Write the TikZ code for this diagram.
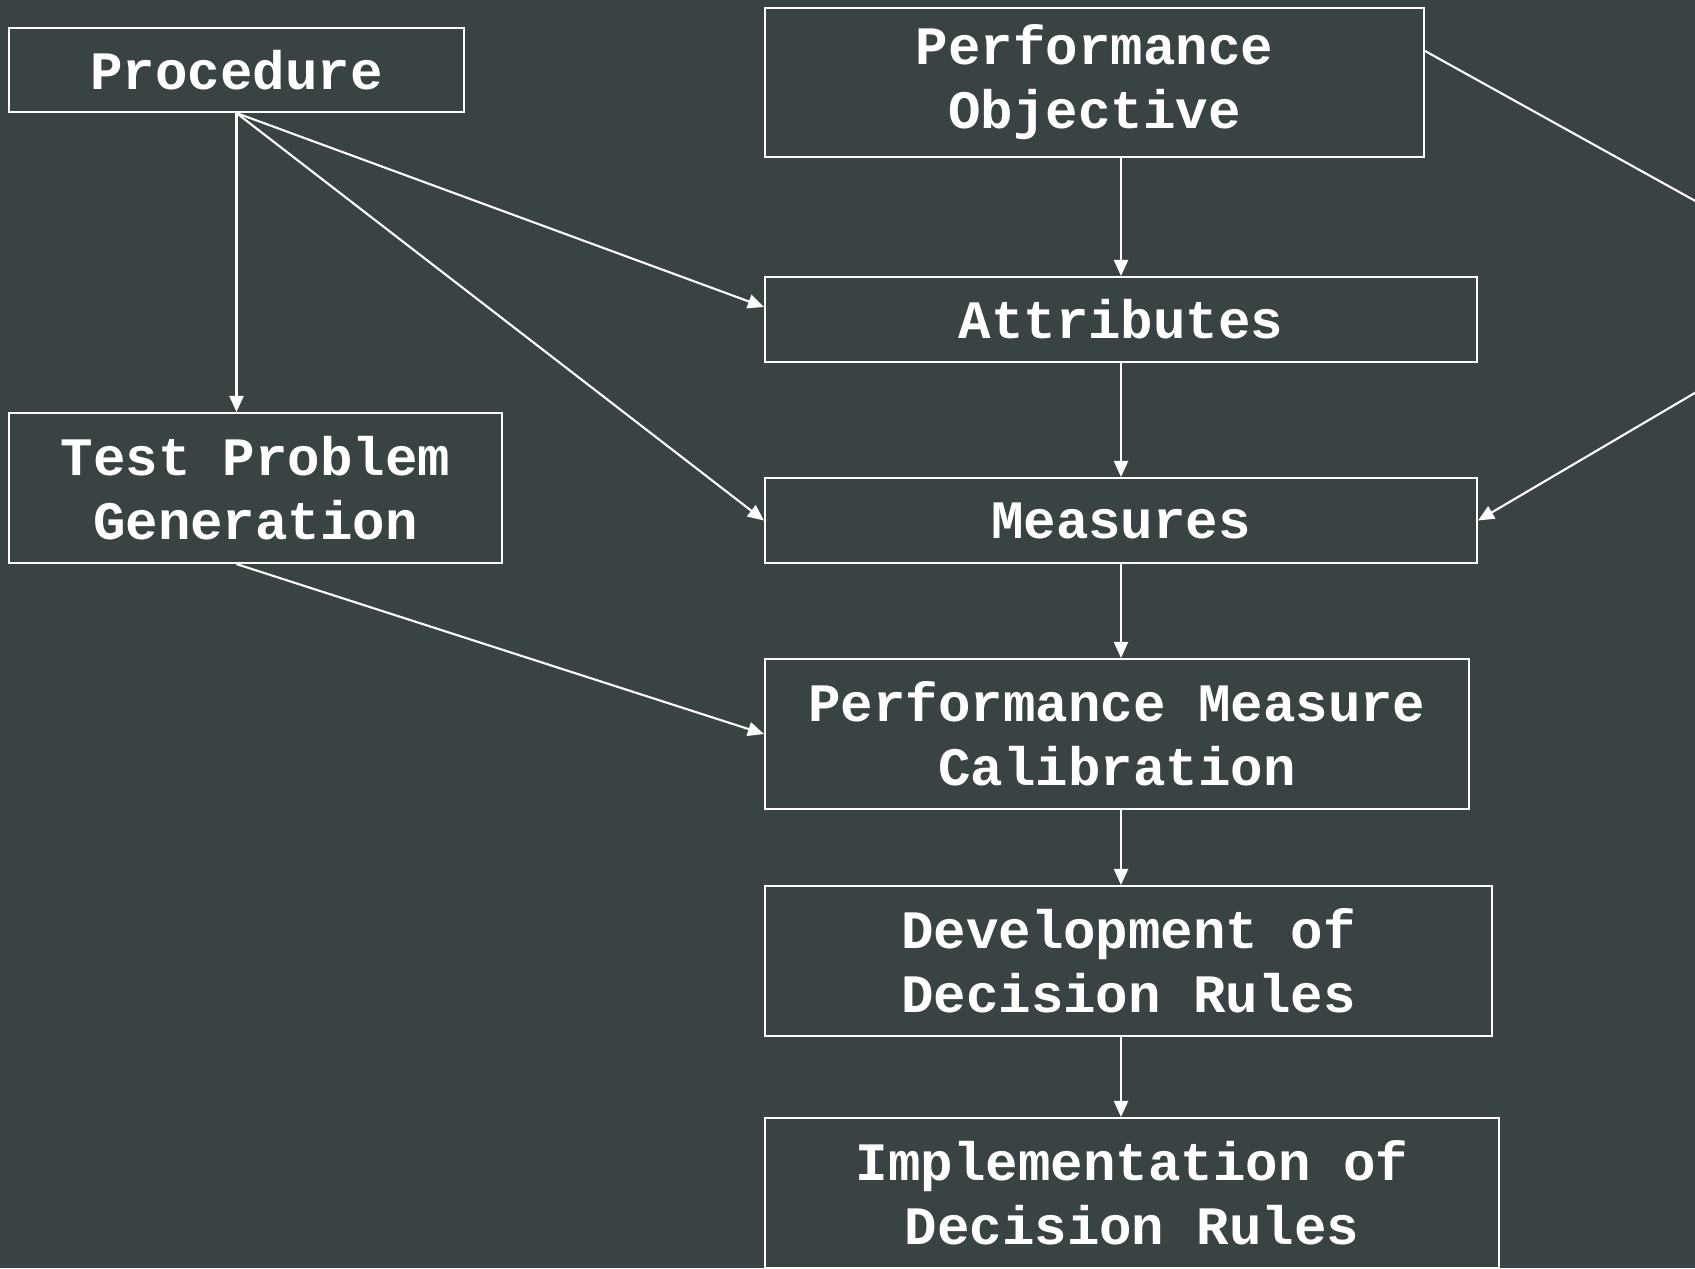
\documentclass[tikz,border=0pt]{standalone}
\usepackage{fontspec}
\setmonofont{Liberation Mono}
\usetikzlibrary{arrows.meta}
\definecolor{slate}{RGB}{58,67,68}
\tikzset{box/.style={draw=white,line width=0.6pt,text=white,inner sep=0pt,align=center,
    font=\ttfamily\bfseries\fontsize{15.4}{18.2}\selectfont},
  link/.style={draw=white,line width=0.6pt,-{Triangle[length=1.6mm,width=1.4mm]}}}

\begin{document}
\begin{tikzpicture}[x=0.1mm,y=-0.1mm]
    \useasboundingbox (0,0) rectangle (1695,1268);
    \fill[slate] (0,0) rectangle (1695,1268);
    \node[box,minimum width=45.5mm,minimum height=8.4mm] (1) at (236.5,70) {Procedure};
    \node[box,minimum width=65.9mm,minimum height=14.9mm] (2) at (1094.5,82.5) {Performance\\Objective};
    \node[box,minimum width=71.2mm,minimum height=8.5mm] (3) at (1121,319.5) {Attributes};
    \node[box,minimum width=49.3mm,minimum height=15mm] (4) at (255.5,488) {Test Problem\\Generation};
    \node[box,minimum width=71.2mm,minimum height=8.5mm] (5) at (1121,520.5) {Measures};
    \node[box,minimum width=70.4mm,minimum height=15mm] (6) at (1117,734) {Performance Measure\\Calibration};
    \node[box,minimum width=72.7mm,minimum height=15mm] (7) at (1128.5,961) {Development of\\Decision Rules};
    \node[box,minimum width=73.4mm,minimum height=15mm] (8) at (1132,1193) {Implementation of\\Decision Rules};
    \coordinate (bend) at (1863,294);
    % left side
    \draw[link] (1.south) -- (1.south |- 4.north);
    \draw[link] (1.south) -- ([yshift=1.25mm]3.west);
    \draw[link] (1.south) -- (5.west);
    \draw[link] (1.south |- 4.south) -- (6.west);
    % main chain
    \draw[link] (3.north |- 2.south) -- (3.north);
    \draw[link] (3.south) -- (5.north);
    \draw[link] (5.south) -- (5.south |- 6.north);
    \draw[link] (5.south |- 6.south) -- (5.south |- 7.north);
    \draw[link] (5.south |- 7.south) -- (5.south |- 8.north);
    % loop round the right edge
    \draw[link] ([yshift=3.15mm]2.east) -- (bend) -- (5.east);
\end{tikzpicture}
\end{document}
